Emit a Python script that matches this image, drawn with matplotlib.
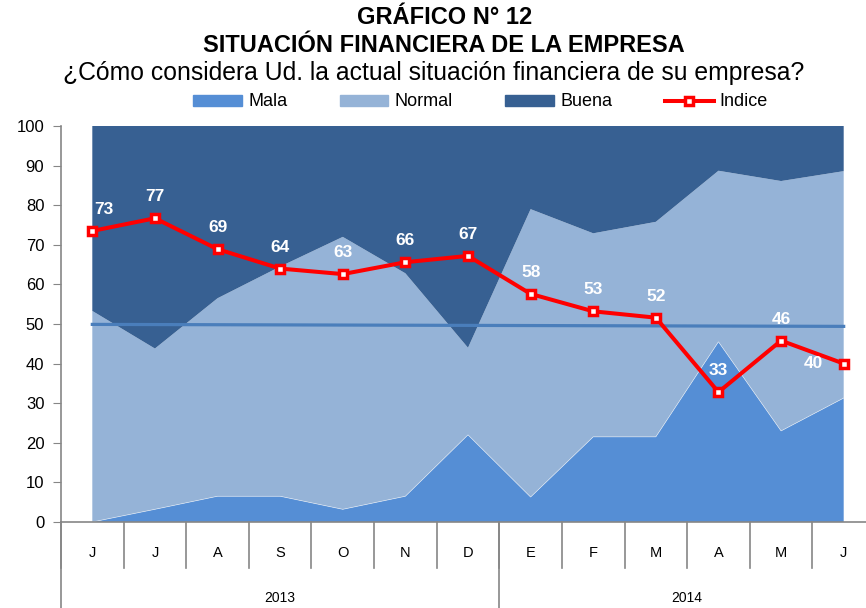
import matplotlib
matplotlib.use('Agg')
import matplotlib.pyplot as plt
import matplotlib.transforms as mtransforms
from matplotlib.patches import Patch
from matplotlib.lines import Line2D
import numpy as np

plt.rcParams['font.family'] = ['Liberation Sans', 'DejaVu Sans']

meses = ['J', 'J', 'A', 'S', 'O', 'N', 'D', 'E', 'F', 'M', 'A', 'M', 'J']
anios = ['2013', '2014']
meses_por_anio = [7, 6]

mala = [0, 3.2, 6.5, 6.5, 3.2, 6.5, 22, 6.3, 21.5, 21.5, 45.5, 23, 31.3]
normal = [53.3, 40.6, 50, 58, 68.8, 56.3, 22, 72.7, 51.4, 54.3, 43.2, 63.1, 57.3]
indice = [73.5, 76.7, 68.9, 64, 62.6, 65.6, 67.2, 57.6, 53.2, 51.6, 32.8, 45.8, 40]
etiquetas = ['73', '77', '69', '64', '63', '66', '67', '58', '53', '52', '33', '46', '40']
linea_50 = [49.9, 49.4]

c_mala = '#558ed5'
c_normal = '#95b3d7'
c_buena = '#376092'

W, H = 866, 608
fig = plt.figure(figsize=(W / 100, H / 100), dpi=100)

# area de trazado en pixeles
x0, x1 = 61, 875
y0, y1 = 522, 126
ax = fig.add_axes([x0 / W, 1 - y0 / H, (x1 - x0) / W, (y0 - y1) / H])

x = np.arange(len(meses))
mala = np.array(mala)
normal = np.array(normal)
buena = 100 - mala - normal

ax.stackplot(x, mala, normal, buena, colors=[c_mala, c_normal, c_buena],
             edgecolor='none', linewidth=0)
# borde blanco fino entre capas
ax.plot(x, mala, color='white', lw=0.5, alpha=0.6)

ax.plot([x[0], x[-1]], linea_50, color='#4a7ebb', lw=2.3)

ax.plot(x, indice, color='red', lw=2.9, marker='s', markersize=6,
        markerfacecolor='white', markeredgecolor='red', markeredgewidth=2.5,
        clip_on=False, zorder=5)

for i, (v, t) in enumerate(zip(indice, etiquetas)):
    if i == len(indice) - 1:
        ax.annotate(t, (i, v), xytext=(-22, 0), textcoords='offset points',
                    ha='center', va='center', color='white', fontsize=12.5,
                    fontweight='bold', zorder=6)
    else:
        dx = 8 if i == 0 else 0
        ax.annotate(t, (i, v), xytext=(dx, 15.5), textcoords='offset points',
                    ha='center', va='center', color='white', fontsize=12.5,
                    fontweight='bold', zorder=6)

ax.set_xlim(-0.5, len(meses) - 0.5)
ax.set_ylim(0, 100)
ax.set_yticks(range(0, 101, 10))
ax.tick_params(axis='y', direction='out', length=6, color='#868686',
               labelsize=12, pad=6)
ax.set_xticks([])
for s in ['top', 'right']:
    ax.spines[s].set_visible(False)
ax.spines['left'].set_color('#868686')
ax.spines['bottom'].set_color('#868686')
ax.spines['left'].set_linewidth(1.2)
ax.spines['bottom'].set_linewidth(1.2)

# eje de categorias con dos niveles
trans = mtransforms.blended_transform_factory(ax.transData, ax.transAxes)
h_ax = (y0 - y1)
nivel1 = -(568 - y0) / h_ax
fondo = -(H - y0) / h_ax
for i in range(len(meses) + 1):
    ax.plot([i - 0.5, i - 0.5], [0, nivel1], transform=trans, color='#868686',
            lw=1.2, clip_on=False)
for i, m in enumerate(meses):
    ax.text(i, -(553 - y0) / h_ax, m, transform=trans, ha='center',
            va='center', fontsize=10.5)

inicio = 0
for a, n in zip(anios, meses_por_anio):
    ax.plot([inicio - 0.5, inicio - 0.5], [0, fondo], transform=trans,
            color='#868686', lw=1.2, clip_on=False)
    ax.text(inicio + (n - 1) / 2, -(598 - y0) / h_ax, a, transform=trans,
            ha='center', va='center', fontsize=10)
    inicio += n

# titulos
fig.text(0.513, 1 - 18 / H, 'GRÁFICO N° 12', ha='center', va='center',
         fontsize=17, fontweight='bold')
fig.text(0.513, 1 - 45 / H, 'SITUACIÓN FINANCIERA DE LA EMPRESA', ha='center',
         va='center', fontsize=17, fontweight='bold')
fig.text(0.501, 1 - 73 / H,
         '¿Cómo considera Ud. la actual situación financiera de su empresa?',
         ha='center', va='center', fontsize=17.8)

handles = [Patch(color=c_mala, label='Mala'),
           Patch(color=c_normal, label='Normal'),
           Patch(color=c_buena, label='Buena'),
           Line2D([], [], color='red', lw=2.9, marker='s', markersize=6,
                  markerfacecolor='white', markeredgewidth=2.5, label='Indice')]
fig.legend(handles=handles, loc='center', bbox_to_anchor=(0.555, 1 - 102 / H),
           ncol=4, frameon=False, fontsize=13, handlelength=2.7,
           handleheight=0.55, handletextpad=0.35, columnspacing=2.9,
           borderpad=0.1)

fig.savefig('out.png', dpi=100)
